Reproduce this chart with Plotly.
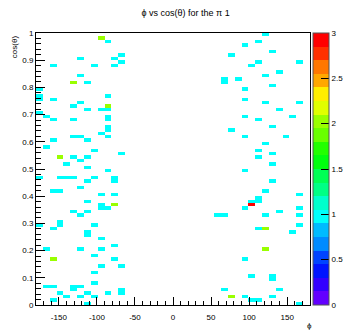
import colorsys
import numpy as np
import plotly.graph_objects as go

# Filled bins of the phi vs cos(theta) histogram: bin centre and content
phi = [
    -94.5, -85.5, -67.5, -121.5, -76.5, -67.5, -157.5, -103.5, -76.5, -121.5,
    -130.5, -112.5, -175.5, -175.5, -175.5, -157.5, -85.5, -121.5, -130.5, -85.5,
    -112.5, -94.5, -85.5, -175.5, -166.5, -157.5, -130.5, -85.5, -85.5, -85.5,
    -85.5, -94.5, -130.5, -121.5, -112.5, -157.5, -85.5, -166.5, -103.5, -148.5,
    -130.5, -112.5, -121.5, -67.5, -139.5, -112.5, -85.5, -175.5, -148.5, -139.5,
    -130.5, -103.5, -76.5, -76.5, -112.5, -121.5, -157.5, -148.5, -94.5, -76.5,
    -112.5, -94.5, -94.5, -76.5, -85.5, -130.5, -112.5, -121.5, -175.5, -148.5,
    -148.5, -157.5, -103.5, -112.5, -112.5, -94.5, -166.5, -121.5, -94.5, -76.5,
    -103.5, -157.5, -76.5, -94.5, -67.5, -103.5, -103.5, -166.5, -157.5, -130.5,
    -121.5, -130.5, -148.5, -112.5, -85.5, -67.5, -67.5, -139.5, -121.5, -103.5,
    -157.5, -112.5,
    121.5, 112.5, 166.5, 166.5, 157.5, 166.5, 166.5, 166.5, 166.5, 157.5,
    166.5, 112.5, 112.5, 103.5, 103.5, 94.5, 121.5, 139.5, 112.5, 121.5,
    58.5, 67.5, 103.5, 130.5, 130.5, 139.5, 67.5, 76.5, 94.5, 130.5,
    103.5, 112.5,
    94.5, 130.5, 76.5, 112.5, 103.5, 139.5, 67.5, 67.5, 85.5, 94.5,
    121.5, 130.5, 94.5, 121.5, 139.5, 94.5, 112.5, 130.5, 76.5, 94.5,
    121.5, 148.5, 112.5, 130.5, 112.5, 130.5, 94.5, 130.5, 121.5, 94.5,
    121.5,
]
cos_theta = [
    0.981, 0.969, 0.919, 0.906, 0.906, 0.894, 0.881, 0.881, 0.881, 0.844,
    0.819, 0.819, 0.794, 0.769, 0.756, 0.756, 0.769, 0.744, 0.731, 0.731,
    0.719, 0.719, 0.719, 0.706, 0.694, 0.681, 0.681, 0.694, 0.681, 0.656,
    0.644, 0.631, 0.619, 0.619, 0.606, 0.606, 0.619, 0.581, 0.569, 0.544,
    0.544, 0.544, 0.531, 0.556, 0.519, 0.506, 0.494, 0.469, 0.469, 0.469,
    0.469, 0.469, 0.469, 0.456, 0.456, 0.431, 0.419, 0.419, 0.406, 0.406,
    0.381, 0.369, 0.356, 0.369, 0.356, 0.344, 0.344, 0.331, 0.294, 0.306,
    0.294, 0.281, 0.294, 0.269, 0.256, 0.244, 0.206, 0.206, 0.206, 0.219,
    0.181, 0.169, 0.169, 0.144, 0.144, 0.119, 0.081, 0.069, 0.069, 0.069,
    0.069, 0.056, 0.044, 0.044, 0.044, 0.056, 0.044, 0.031, 0.031, 0.031,
    0.019, 0.006,
    0.994, 0.969, 0.894, 0.744, 0.694, 0.406, 0.356, 0.331, 0.294, 0.269,
    0.006, 0.394, 0.381, 0.381, 0.369, 0.356, 0.331, 0.344, 0.281, 0.281,
    0.331, 0.331, 0.106, 0.106, 0.094, 0.056, 0.056, 0.031, 0.031, 0.031,
    0.019, 0.019,
    0.956, 0.931, 0.919, 0.894, 0.881, 0.856, 0.831, 0.819, 0.831, 0.794,
    0.844, 0.806, 0.756, 0.744, 0.719, 0.694, 0.681, 0.656, 0.644, 0.619,
    0.594, 0.619, 0.569, 0.556, 0.544, 0.519, 0.494, 0.456, 0.419, 0.169,
    0.206,
]
counts = [
    2, 1, 1, 1, 1, 1, 1, 1, 1, 1,
    2, 1, 1, 1, 1, 1, 1, 1, 1, 2,
    1, 1, 1, 1, 1, 1, 1, 1, 1, 1,
    1, 1, 1, 1, 1, 1, 1, 1, 1, 2,
    1, 1, 1, 1, 1, 1, 1, 1, 1, 1,
    1, 1, 1, 1, 1, 1, 1, 1, 1, 1,
    1, 1, 1, 2, 1, 1, 1, 1, 1, 1,
    1, 1, 1, 1, 1, 1, 1, 1, 1, 1,
    1, 2, 1, 1, 1, 1, 1, 1, 1, 1,
    1, 1, 1, 1, 1, 1, 1, 1, 1, 1,
    1, 1,
    1, 1, 1, 1, 1, 1, 1, 1, 1, 1,
    1, 1, 1, 1, 3, 1, 1, 1, 1, 2,
    1, 1, 1, 1, 1, 1, 1, 2, 1, 1,
    1, 1,
    1, 1, 1, 1, 1, 1, 1, 1, 1, 1,
    1, 1, 1, 1, 1, 1, 1, 1, 1, 1,
    1, 1, 1, 1, 1, 1, 1, 1, 1, 1,
    2,
]

x_ticks = [-150, -100, -50, 0, 50, 100, 150]
x_labels = ["-150", "-100", "-50", "0", "50", "100", "150"]
y_ticks = [0, 0.1, 0.2, 0.3, 0.4, 0.5, 0.6, 0.7, 0.8, 0.9, 1]
y_labels = ["0", "0.1", "0.2", "0.3", "0.4", "0.5", "0.6", "0.7", "0.8", "0.9", "1"]
z_ticks = [0, 0.5, 1, 1.5, 2, 2.5, 3]
z_labels = ["0", "0.5", "1", "1.5", "2", "2.5", "3"]

# 40 x 80 binning, like the TH2 that was filled
nx, ny = 40, 80
x_edges = np.linspace(-180, 180, nx + 1)
y_edges = np.linspace(0, 1, ny + 1)
H, _, _ = np.histogram2d(phi, cos_theta, bins=[x_edges, y_edges], weights=counts)
z = H.T.copy()
z[z == 0] = np.nan
x_c = 0.5 * (x_edges[:-1] + x_edges[1:])
y_c = 0.5 * (y_edges[:-1] + y_edges[1:])

# ROOT "pretty" palette (HLS hue scan violet -> red) sampled on 20 contour levels
ncont = 20
colorscale = []
for k in range(ncont):
    idx = int((k + 0.99) * 50 / ncont)
    hue = 280 - (idx + 1) * 5.6
    r, g, b = colorsys.hls_to_rgb(hue / 360.0, 0.5, 1.0)
    c = f"rgb({round(r*255)},{round(g*255)},{round(b*255)})"
    colorscale.append([k / ncont, c])
    colorscale.append([(k + 1) / ncont, c])

FONT = "Liberation Sans Narrow, Arial Narrow, Liberation Sans, sans-serif"

fig = go.Figure(
    go.Heatmap(
        x=x_c, y=y_c, z=z,
        zmin=0, zmax=3,
        colorscale=colorscale,
        hoverongaps=False,
        colorbar=dict(
            x=1.011, xanchor="left", xpad=0,
            y=0.5, yanchor="middle", len=1.0, lenmode="fraction", ypad=0,
            thickness=16, thicknessmode="pixels",
            outlinewidth=1, outlinecolor="#555555",
            tickmode="array", tickvals=z_ticks, ticktext=z_labels,
            ticks="inside", ticklen=8, tickcolor="black", tickwidth=1,
            tickfont=dict(family=FONT, size=8, color="black"),
        ),
    )
)

fig.update_layout(
    width=364, height=333,
    margin=dict(l=36, r=28, t=33, b=28),
    paper_bgcolor="white", plot_bgcolor="white",
    title=dict(
        text="ϕ vs cos(θ) for the π 1",
        x=0.51, xanchor="center", y=0.962, yanchor="middle",
        font=dict(family=FONT, size=9, color="black"),
    ),
    font=dict(family=FONT, size=8, color="black"),
    annotations=[
        dict(text="cos(θ)", textangle=-90, xref="paper", yref="paper",
             x=-0.078, y=1.0, xanchor="center", yanchor="top", showarrow=False,
             font=dict(family=FONT, size=8, color="black")),
        dict(text="ϕ", xref="paper", yref="paper",
             x=0.997, y=-0.075, xanchor="center", yanchor="middle", showarrow=False,
             font=dict(family=FONT, size=8, color="black")),
    ],
)

fig.update_xaxes(
    range=[-180, 180], showgrid=False, zeroline=False,
    showline=True, linecolor="black", linewidth=1, mirror=True,
    tickmode="array", tickvals=x_ticks, ticktext=x_labels,
    ticks="inside", ticklen=8, tickcolor="black",
    minor=dict(dtick=10, tick0=0, ticks="inside", ticklen=4, tickcolor="black", showgrid=False),
    tickfont=dict(family=FONT, size=8, color="black"),
    ticklabelstandoff=4,
)
fig.update_yaxes(
    range=[0, 1], showgrid=False, zeroline=False,
    showline=True, linecolor="black", linewidth=1, mirror=True,
    tickmode="array", tickvals=y_ticks, ticktext=y_labels,
    ticks="inside", ticklen=9, tickcolor="black",
    minor=dict(dtick=0.02, tick0=0, ticks="inside", ticklen=5, tickcolor="black", showgrid=False),
    tickfont=dict(family=FONT, size=8, color="black"),
)

fig.write_html("out.html")
